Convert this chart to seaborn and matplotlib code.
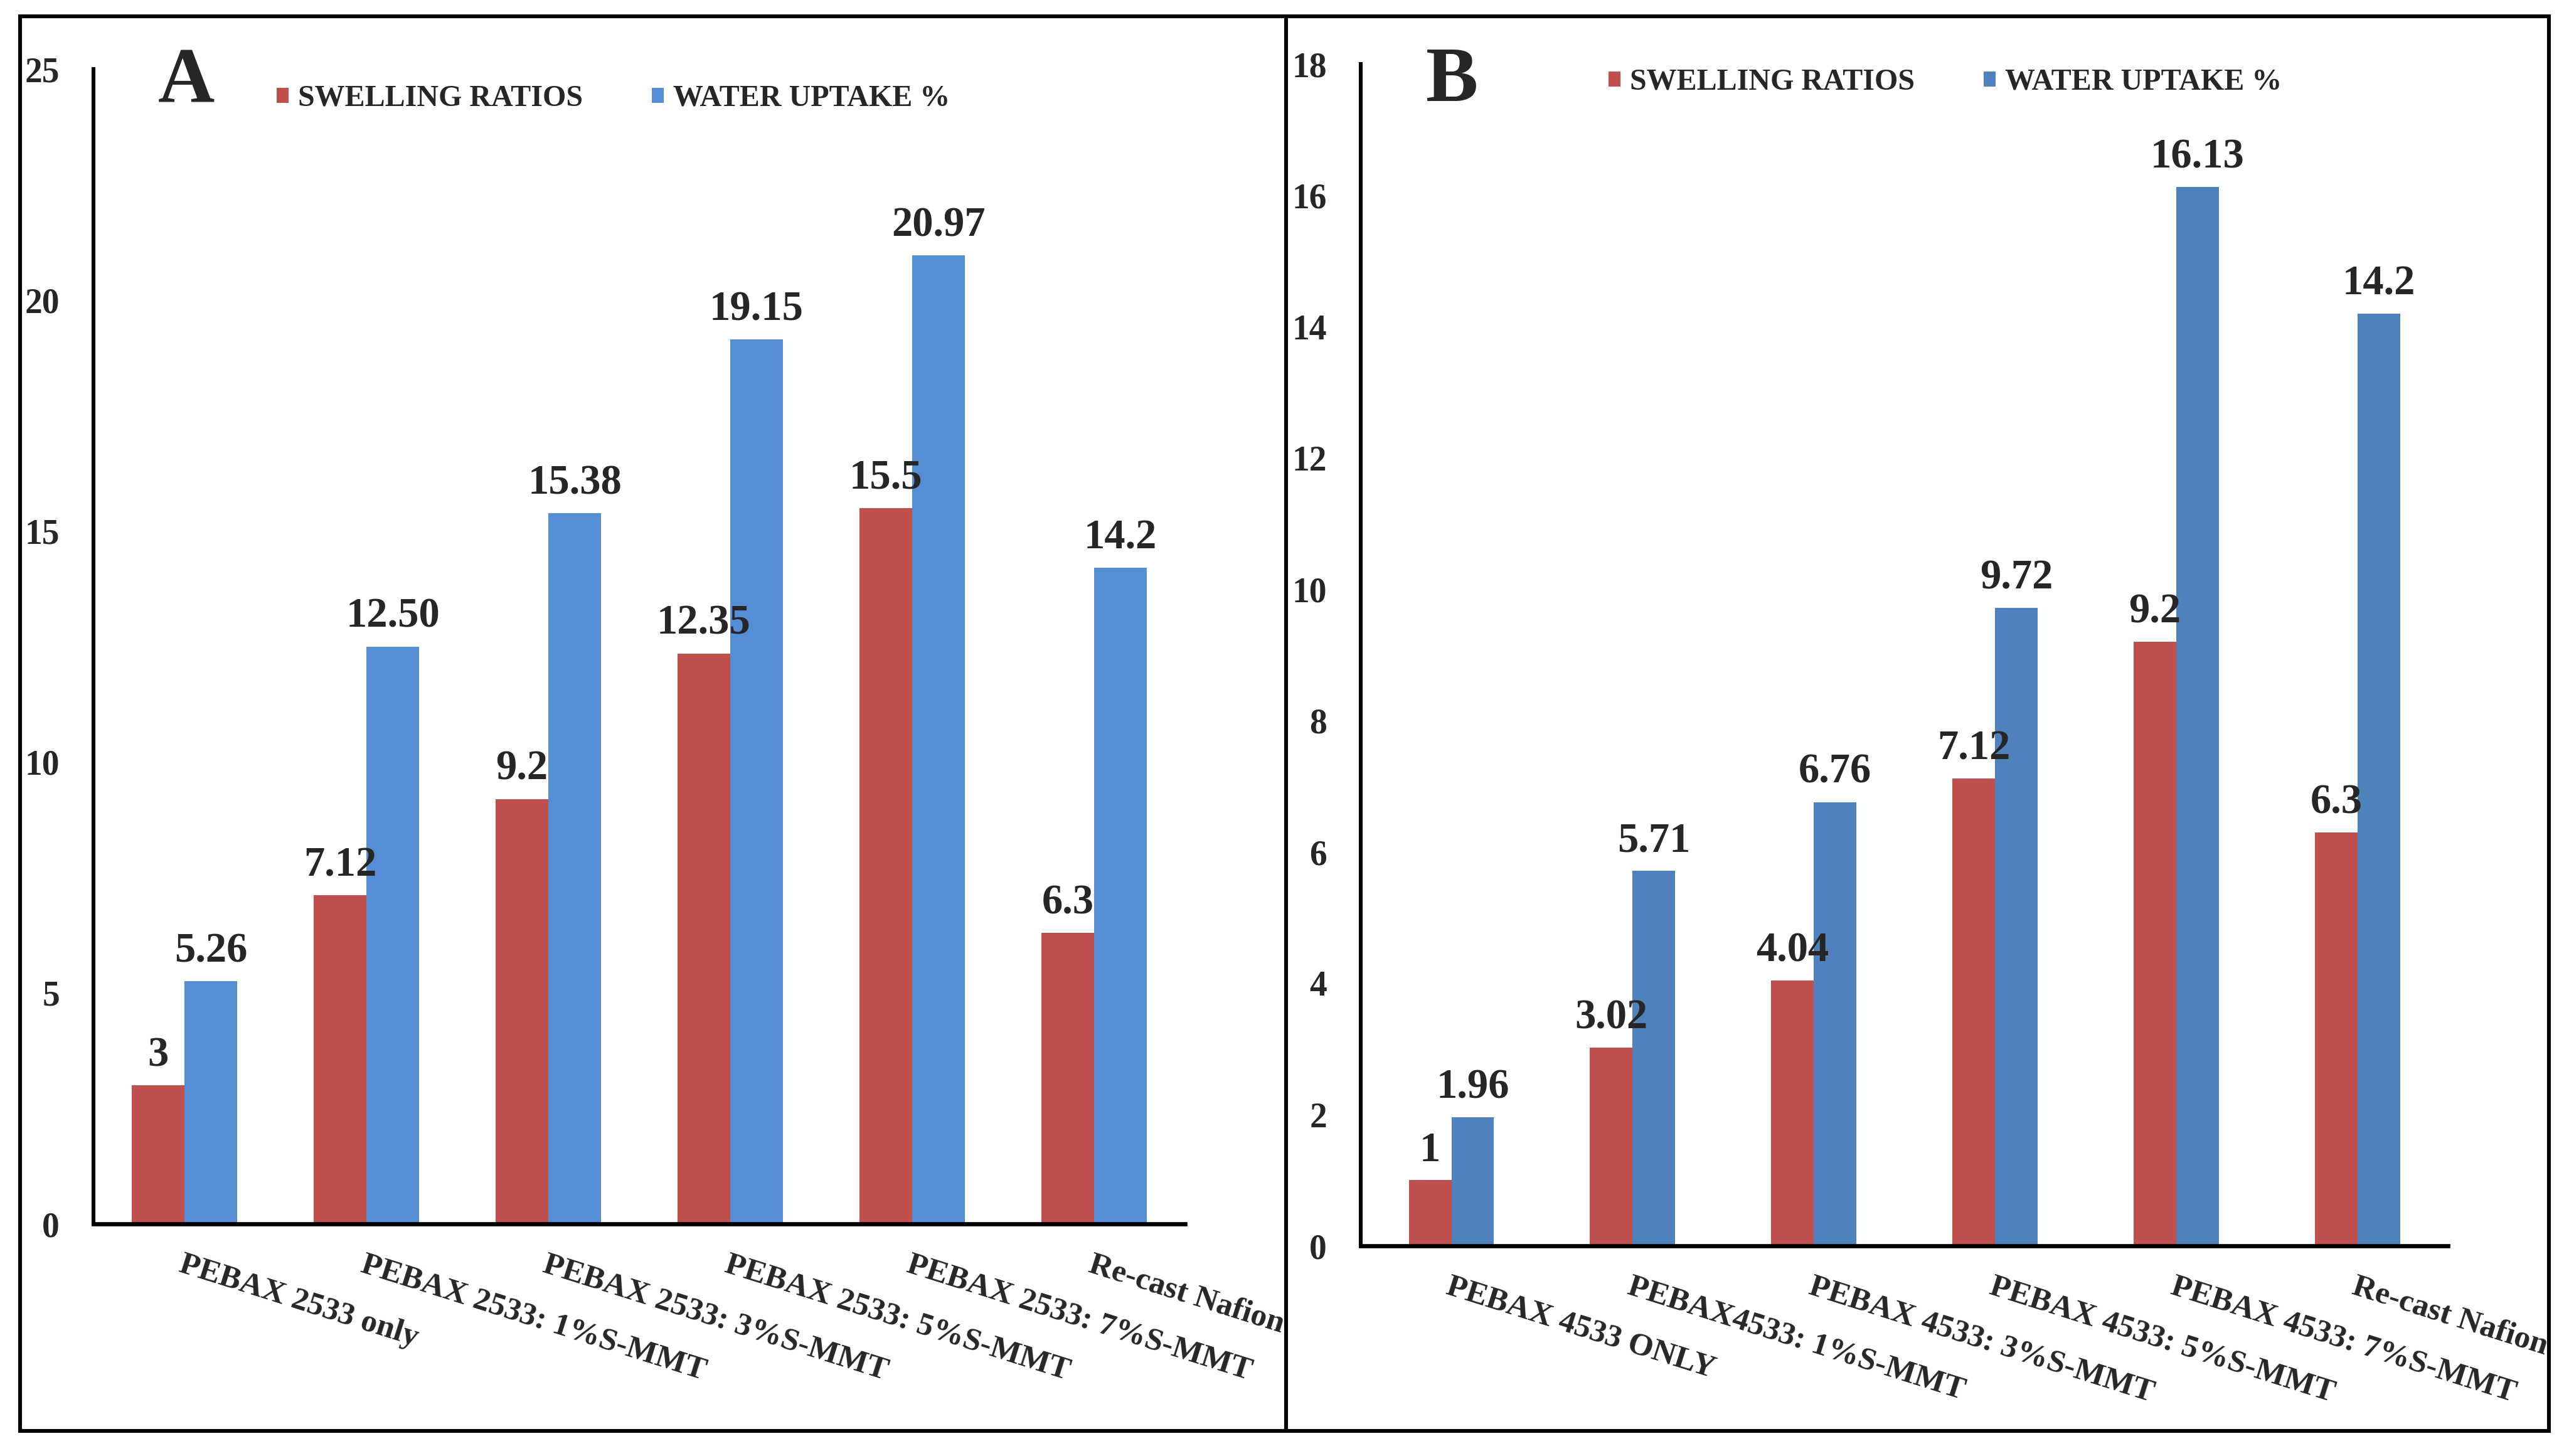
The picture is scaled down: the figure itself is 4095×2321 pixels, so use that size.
import pandas as pd
import matplotlib.pyplot as plt
import seaborn as sns
from matplotlib.patches import Patch, Rectangle
from matplotlib.lines import Line2D

# --- DATA ---
series_names = ['SWELLING RATIOS', 'WATER UPTAKE %']

samples_a = ['PEBAX 2533 only', 'PEBAX 2533: 1%S-MMT', 'PEBAX 2533: 3%S-MMT',
             'PEBAX 2533: 5%S-MMT', 'PEBAX 2533: 7%S-MMT', 'Re-cast Nafion']
swelling_a = [3, 7.12, 9.2, 12.35, 15.5, 6.3]
water_a = [5.26, 12.50, 15.38, 19.15, 20.97, 14.2]
swelling_a_labels = ['3', '7.12', '9.2', '12.35', '15.5', '6.3']
water_a_labels = ['5.26', '12.50', '15.38', '19.15', '20.97', '14.2']

samples_b = ['PEBAX 4533 ONLY', 'PEBAX4533: 1%S-MMT', 'PEBAX 4533: 3%S-MMT',
             'PEBAX 4533: 5%S-MMT', 'PEBAX 4533: 7%S-MMT', 'Re-cast Nafion']
swelling_b = [1, 3.02, 4.04, 7.12, 9.2, 6.3]
water_b = [1.96, 5.71, 6.76, 9.72, 16.13, 14.2]
swelling_b_labels = ['1', '3.02', '4.04', '7.12', '9.2', '6.3']
water_b_labels = ['1.96', '5.71', '6.76', '9.72', '16.13', '14.2']


def long_form(samples, swelling, water):
    return pd.DataFrame({
        'sample': samples * 2,
        'series': [series_names[0]] * len(samples) + [series_names[1]] * len(samples),
        'value': swelling + water,
    })


# --- STYLE ---
sns.set_style("white")
plt.rcParams['font.family'] = ['Liberation Serif', 'DejaVu Serif']

fig = plt.figure(figsize=(20.475, 11.605), dpi=200)

panels = [
    dict(df=long_form(samples_a, swelling_a, water_a), samples=samples_a,
         labels=(swelling_a_labels, water_a_labels),
         colors=['#C0504D', '#558ED5'], width=0.58,
         pos=[0.0364, 0.1594, 0.4249, 0.7932], ymax=25, step=5,
         letter='A', letter_xy=(0.0615, 0.9298), legend_xy=(0.1077, 0.9324)),
    dict(df=long_form(samples_b, swelling_b, water_b), samples=samples_b,
         labels=(swelling_b_labels, water_b_labels),
         colors=['#C0504D', '#4F81BD'], width=0.47,
         pos=[0.5297, 0.1443, 0.4232, 0.8117], ymax=18, step=2,
         letter='B', letter_xy=(0.5550, 0.9306), legend_xy=(0.6261, 0.9436)),
]

for p in panels:
    ax = fig.add_axes(p['pos'])
    sns.barplot(data=p['df'], x='sample', y='value', hue='series',
                palette=p['colors'], width=p['width'], saturation=1,
                linewidth=0, legend=False, ax=ax)

    for cont, labs in zip(ax.containers, p['labels']):
        ax.bar_label(cont, labels=labs, padding=6, fontsize=24, fontweight='bold')

    ax.set_xlim(-0.5, 5.5)
    ax.set_ylim(0, p['ymax'])
    ax.set_yticks(range(0, p['ymax'] + 1, p['step']))
    ax.set_xticks(range(len(p['samples'])))
    ax.set_xticklabels(p['samples'], rotation=-17.5, ha='left', va='top',
                       rotation_mode='anchor', fontsize=18.5, fontweight='bold')
    for lab in ax.get_yticklabels():
        lab.set_fontweight('bold')
        lab.set_fontsize(20)
    ax.tick_params(axis='y', length=0, pad=19.5)
    ax.tick_params(axis='x', length=0, pad=15)
    ax.set_xlabel('')
    ax.set_ylabel('')

    sns.despine(ax=ax)
    ax.spines['left'].set_linewidth(2.2)
    ax.spines['bottom'].set_linewidth(2.4)
    ax.spines['left'].set_color('black')
    ax.spines['bottom'].set_color('black')

    handles = [Patch(facecolor=c, edgecolor='none') for c in p['colors']]
    ax.legend(handles, series_names, loc='center left', ncol=2,
              bbox_to_anchor=p['legend_xy'], bbox_transform=fig.transFigure,
              frameon=False, borderpad=0, borderaxespad=0,
              handlelength=0.4, handleheight=0.4, handletextpad=0.3,
              columnspacing=2.3, prop={'family': 'Liberation Serif', 'weight': 'bold', 'size': 17.3})

    fig.text(p['letter_xy'][0], p['letter_xy'][1], p['letter'], fontsize=45,
             fontweight='bold', va='baseline', ha='left')

# outer frame and divider
fig.add_artist(Rectangle((0.0078, 0.0172), 0.9844, 0.9716, transform=fig.transFigure,
                         fill=False, lw=2.2, ec='black'))
fig.add_artist(Line2D([0.5006, 0.5006], [0.0172, 0.9888], transform=fig.transFigure,
                      lw=2.2, color='black'))

plt.savefig('out.png', dpi=200)
plt.close()
